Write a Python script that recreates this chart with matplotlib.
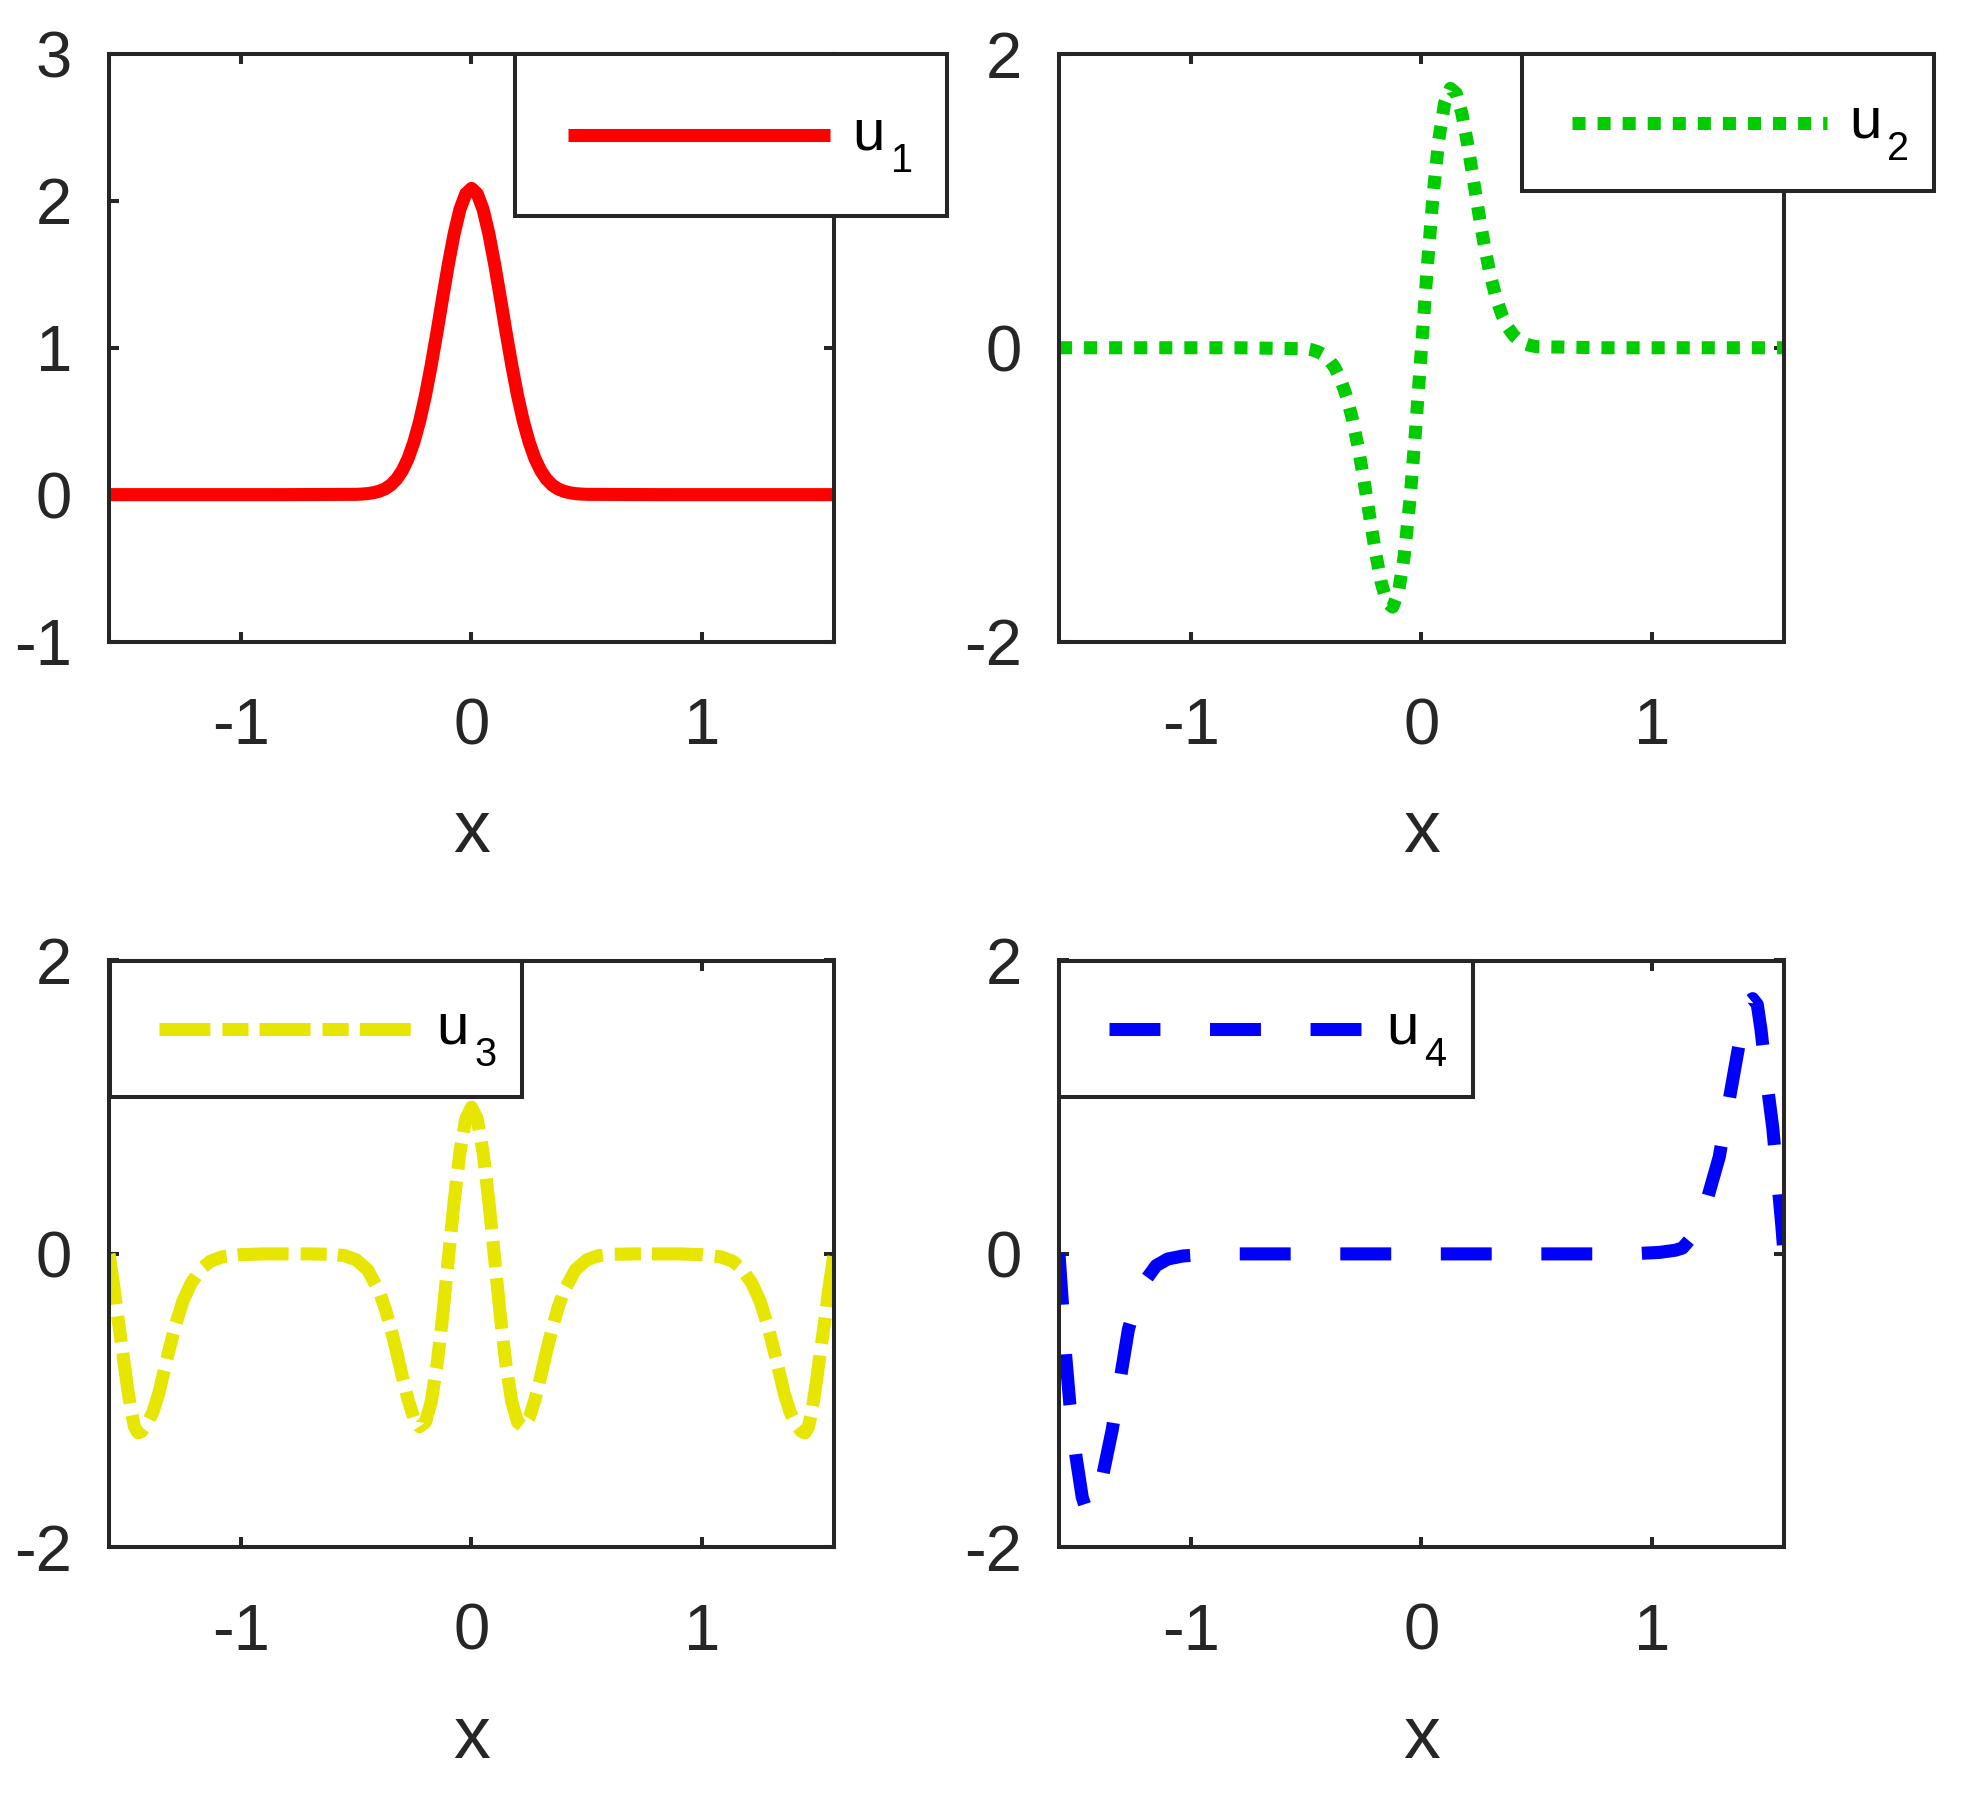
import matplotlib
matplotlib.use("Agg")
import matplotlib.pyplot as plt
from matplotlib.patches import Rectangle

# ---- values ----
x1 = [-1.5708, -0.8, -0.5, -0.475, -0.45, -0.425, -0.4, -0.375, -0.35, -0.325,
      -0.3, -0.275, -0.25, -0.225, -0.2, -0.175, -0.15, -0.125, -0.1, -0.075,
      -0.05, -0.025, 0.0, 0.025, 0.05, 0.075, 0.1, 0.125, 0.15, 0.175, 0.2,
      0.225, 0.25, 0.275, 0.3, 0.325, 0.35, 0.375, 0.4, 0.425, 0.45, 0.475,
      0.5, 0.8, 1.5708]
u1 = [0.0, 0.0, 0.002, 0.004, 0.007, 0.013, 0.023, 0.039, 0.065, 0.105,
      0.163, 0.245, 0.356, 0.498, 0.672, 0.877, 1.103, 1.340, 1.571, 1.778,
      1.943, 2.048, 2.085, 2.048, 1.943, 1.778, 1.571, 1.340, 1.103, 0.877, 0.672,
      0.498, 0.356, 0.245, 0.163, 0.105, 0.065, 0.039, 0.023, 0.013, 0.007, 0.004,
      0.002, 0.0, 0.0]

x2 = x1
u2 = [0.0, 0.0, -0.007, -0.014, -0.027, -0.048, -0.083, -0.137, -0.218, -0.331,
      -0.482, -0.673, -0.898, -1.143, -1.386, -1.595, -1.733, -1.766, -1.665, -1.419,
      -1.036, -0.547, 0.0, 0.547, 1.036, 1.419, 1.665, 1.766, 1.733, 1.595, 1.386,
      1.143, 0.898, 0.673, 0.482, 0.331, 0.218, 0.137, 0.083, 0.048, 0.027, 0.014,
      0.007, 0.0, 0.0]

x3 = [-1.5708, -1.55, -1.532, -1.51, -1.491, -1.475, -1.46, -1.445, -1.43, -1.41,
      -1.381, -1.355, -1.331, -1.305, -1.284, -1.25, -1.215, -1.17, -1.132, -1.08,
      -1.0, -0.9, -0.7, -0.6, -0.55, -0.5, -0.45, -0.4, -0.375, -0.35, -0.325,
      -0.3, -0.275, -0.25, -0.225, -0.2, -0.175, -0.15, -0.125, -0.1, -0.075,
      -0.05, -0.025, 0.0, 0.025, 0.05, 0.075, 0.1, 0.125, 0.15, 0.175, 0.2,
      0.225, 0.25, 0.275, 0.3, 0.325, 0.35, 0.375, 0.4, 0.45, 0.5, 0.55, 0.6,
      0.7, 0.9, 1.0, 1.08, 1.132, 1.17, 1.215, 1.25, 1.284, 1.305, 1.331, 1.355,
      1.381, 1.41, 1.43, 1.445, 1.46, 1.475, 1.491, 1.51, 1.532, 1.55, 1.5708]
u3 = [0.0, -0.22, -0.44, -0.69, -0.91, -1.07, -1.18, -1.22, -1.21, -1.17,
      -1.08, -0.95, -0.79, -0.62, -0.49, -0.32, -0.20, -0.10, -0.05, -0.02,
      -0.005, 0.0, 0.0, -0.003, -0.012, -0.04, -0.109, -0.255, -0.367, -0.506, -0.665,
      -0.834, -0.994, -1.117, -1.178, -1.148, -1.011, -0.764, -0.424, -0.028, 0.361,
      0.694, 0.92, 1.0, 0.92, 0.694, 0.361, -0.028, -0.424, -0.764, -1.011, -1.148,
      -1.178, -1.117, -0.994, -0.834, -0.665, -0.506, -0.367, -0.255, -0.109, -0.04, -0.012, -0.003,
      0.0, 0.0, -0.005, -0.02, -0.05, -0.10, -0.20, -0.32, -0.49, -0.62, -0.79, -0.95,
      -1.08, -1.17, -1.21, -1.22, -1.18, -1.07, -0.91, -0.69, -0.44, -0.22, 0.0]

x4 = [-1.5708, -1.556, -1.542, -1.524, -1.498, -1.47, -1.455, -1.435, -1.415, -1.40,
      -1.383, -1.34, -1.305, -1.27, -1.235, -1.198, -1.15, -1.10, -1.033, -0.9,
      0.9, 1.03, 1.10, 1.131, 1.18, 1.234, 1.29, 1.33, 1.365, 1.39, 1.41, 1.435,
      1.455, 1.471, 1.496, 1.522, 1.543, 1.562, 1.5708]
u4 = [0.0, -0.34, -0.69, -1.02, -1.372, -1.66, -1.73, -1.75, -1.71, -1.64,
      -1.523, -1.197, -0.849, -0.514, -0.33, -0.184, -0.08, -0.035, -0.014, 0.0,
      0.0, 0.01, 0.025, 0.04, 0.13, 0.35, 0.66, 1.02, 1.33, 1.55, 1.707, 1.74,
      1.70, 1.53, 1.18, 0.86, 0.51, 0.18, 0.0]

names = ['u', 'u', 'u', 'u']
subs = ['1', '2', '3', '4']
colors = ['#ff0000', '#00cc00', '#e6e600', '#0000ff']
xticks = [-1, 0, 1]

W, H, DPI = 1965, 1796, 100
AXC = '#262626'
LW = 9.4

plt.rcParams['font.family'] = 'Liberation Sans'
plt.rcParams['axes.unicode_minus'] = False


def fig_rect(left, top, right, bottom):
    return [left / W, 1 - bottom / H, (right - left) / W, (bottom - top) / H]


def draw_panel(fig, box, x, y, color, style, ylim, yticks, name, sub,
               frame, anchor, hl):
    ax = fig.add_axes(fig_rect(*box))
    ax.plot(x, y, color=color, linewidth=LW, linestyle=style,
            dash_capstyle='butt', solid_capstyle='butt',
            solid_joinstyle='round', dash_joinstyle='round', label=name)
    ax.set_xlim(-1.5708, 1.5708)
    ax.set_ylim(*ylim)
    ax.set_xticks(xticks)
    ax.set_yticks(yticks)
    ax.tick_params(direction='in', length=7, width=2.9, top=True, right=True,
                   labelsize=47, color=AXC, labelcolor=AXC)
    ax.tick_params(axis='x', pad=40)
    ax.tick_params(axis='y', pad=26.5)
    for sp in ax.spines.values():
        sp.set_linewidth(2.9)
        sp.set_color(AXC)
    ax.set_xlabel('x', fontsize=53, color=AXC, labelpad=29.5)

    # legend box (MATLAB style, sticks out of the axes)
    fl, ft, fr, fb = frame
    rect = Rectangle((fl / W, 1 - fb / H), (fr - fl) / W, (fb - ft) / H,
                     transform=fig.transFigure, facecolor='white',
                     edgecolor=AXC, linewidth=2.9, zorder=4, clip_on=False)
    ax.add_patch(rect)
    leg = ax.legend(loc='center left', bbox_to_anchor=(anchor[0] / W, 1 - anchor[1] / H),
                    bbox_transform=fig.transFigure, frameon=False, borderpad=0,
                    borderaxespad=0, handlelength=hl, handleheight=0.05,
                    handletextpad=0.38, fontsize=42, labelcolor='black')
    leg.set_zorder(5)
    # subscript index, set low like the TeX interpreter does
    ax.annotate(sub, xy=(1, 0), xycoords=leg.get_texts()[0],
                xytext=(4.0, -7.5), textcoords='offset points',
                ha='left', va='baseline', fontsize=28.5, color='black',
                zorder=6, annotation_clip=False)
    return ax


fig = plt.figure(figsize=(W / DPI, H / DPI), dpi=DPI)

draw_panel(fig, (109, 54, 834, 641.5), x1, u1, colors[0], '-', (-1, 3),
           [-1, 0, 1, 2, 3], names[0], subs[0], (515, 54, 947, 215.5), (568, 135), 4.5)
draw_panel(fig, (1059, 54, 1784, 641.5), x2, u2, colors[1], (0, (1.0, 0.92)), (-2, 2),
           [-2, 0, 2], names[1], subs[1], (1522, 54, 1934, 191), (1572, 123), 4.37)
draw_panel(fig, (109, 960.5, 834, 1547.3), x3, u3, colors[2], (0, (3.9, 0.92, 2.0, 0.85)),
           (-2, 2), [-2, 0, 2], names[2], subs[2], (110, 960.5, 522, 1097), (159, 1029), 4.37)
draw_panel(fig, (1059, 960.5, 1784, 1547.3), x4, u4, colors[3], (0, (3.9, 3.8)),
           (-2, 2), [-2, 0, 2], names[3], subs[3], (1059.5, 960.5, 1473, 1097), (1109, 1029), 4.37)

fig.canvas.draw()
fig.savefig('out.png', dpi=DPI, facecolor='white')
